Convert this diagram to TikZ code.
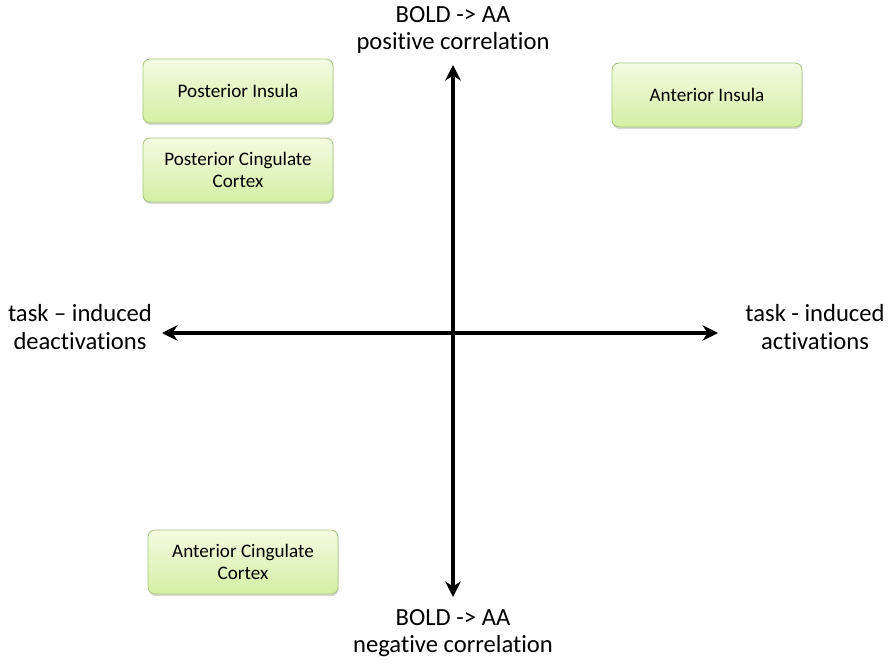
\documentclass[tikz,border=0pt]{standalone}
\usepackage{fontspec}
\setmainfont[Ligatures=CommonOff]{Carlito}
\usetikzlibrary{arrows.meta,shadows}

\definecolor{boxtop}{HTML}{F4FBE2}
\definecolor{boxbot}{HTML}{D3EFA3}
\definecolor{boxline}{HTML}{A9C77F}

\begin{document}
\begin{tikzpicture}[x=0.025cm, y=-0.025cm,
  region/.style={draw=boxline, line width=0.6pt, rounded corners=5pt,
    top color=boxtop, bottom color=boxbot,
    minimum width=4.75cm, minimum height=1.6cm, align=center,
    font=\fontsize{13.6}{15.5}\selectfont,
    drop shadow={shadow xshift=0.5pt, shadow yshift=-1.5pt, opacity=0.3}},
  axislabel/.style={align=center, font=\fontsize{17.5}{19.5}\selectfont},
  axis/.style={line width=2.3pt, {Stealth[length=11pt,width=11pt,inset=3.5pt]}-{Stealth[length=11pt,width=11pt,inset=3.5pt]}}]
\useasboundingbox (0,0) rectangle (892,663);

\node[region] (PI) at (238, 91) {Posterior Insula};
\node[region] (PCC) at (238, 170) {Posterior Cingulate\\Cortex};
\node[region] (AI) at (707, 95) {Anterior Insula};
\node[region] (ACC) at (243, 562) {Anterior Cingulate\\Cortex};

\coordinate (up) at (453, 65);
\coordinate (down) at (453, 597);
\coordinate (west) at (162, 333);
\coordinate (east) at (718, 333);

\node[axislabel] (pos) at (453, 30) {BOLD -> AA\\positive correlation};
\node[axislabel] (neg) at (453, 633) {BOLD -> AA\\negative correlation};
\node[axislabel] (deact) at (80, 327) {task -- induced\\deactivations};
\node[axislabel] (act) at (815, 327) {task - induced\\activations};

\draw[axis] (down) to (up);
\draw[axis] (west) to (east);
\end{tikzpicture}
\end{document}
